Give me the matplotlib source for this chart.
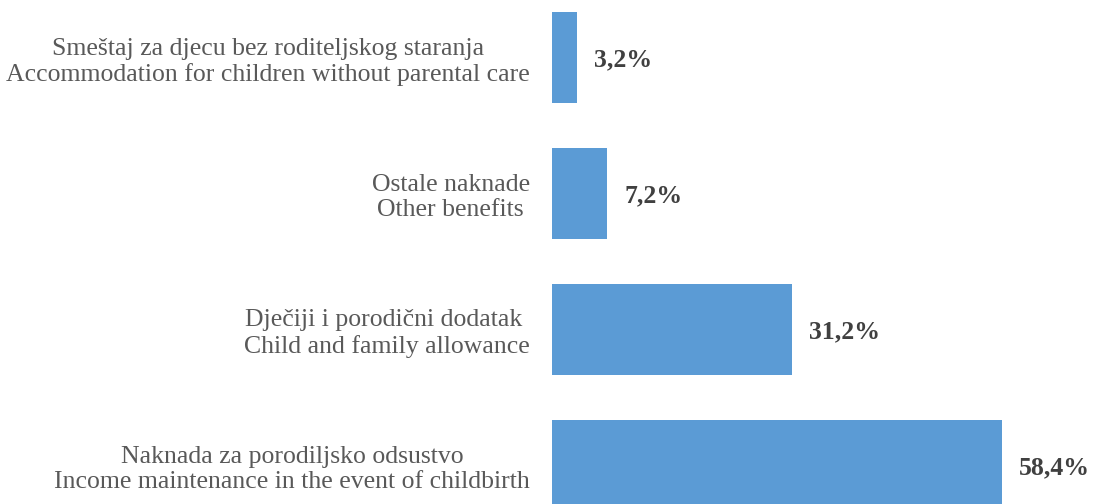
import matplotlib
matplotlib.use("Agg")
import matplotlib.pyplot as plt

categories = [
    "Smeštaj za djecu bez roditeljskog staranja\nAccommodation for children without parental care",
    "Ostale naknade\nOther benefits",
    "Dječiji i porodični dodatak \nChild and family allowance",
    "Naknada za porodiljsko odsustvo\nIncome maintenance in the event of childbirth",
]
values = [3.2, 7.2, 31.2, 58.4]
value_labels = ["3,2%", "7,2%", "31,2%", "58,4%"]

DPI = 100
W, H = 1093, 504
fig = plt.figure(figsize=(W / DPI, H / DPI), dpi=DPI)
fig.patch.set_facecolor("white")

left_px = 552
ax = fig.add_axes([left_px / W, 0, 1 - left_px / W, 1])

pos = list(range(len(values)))
ax.barh(pos, values, height=0.67, color="#5B9BD5", edgecolor="none")

px_per_unit = 449.5 / 58.4
ax.set_xlim(0, (W - left_px) / px_per_unit)
spacing = 135.9
top = -57.5 / spacing
bottom = (H - 57.5) / spacing
ax.set_ylim(bottom, top)

for p, v, lab in zip(pos, values, value_labels):
    ax.annotate(lab, xy=(v, p), xytext=(12.3, -2), textcoords="offset points",
                ha="left", va="center", fontsize=18.5, fontweight="bold",
                color="#404040", family="Liberation Serif")

ax.set_yticks(pos)
ax.set_yticklabels(categories, fontsize=18.5, color="#595959", family="Liberation Serif")
for t in ax.get_yticklabels():
    t.set_multialignment("center")
ax.tick_params(axis="y", length=0, pad=16)
ax.set_xticks([])
for s in ax.spines.values():
    s.set_visible(False)
ax.patch.set_alpha(0)

fig.savefig("out.png", dpi=DPI)
